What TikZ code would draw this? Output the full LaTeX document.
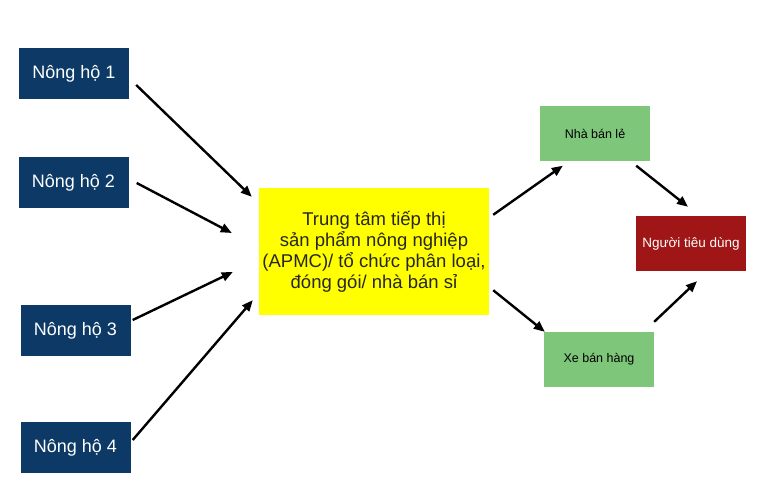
\documentclass[tikz,border=0pt]{standalone}
\usepackage{fontspec}
\setmainfont{Liberation Sans}
\usetikzlibrary{arrows.meta,calc}
\definecolor{farmblue}{RGB}{12,57,101}
\definecolor{marketyellow}{RGB}{255,255,0}
\definecolor{shopgreen}{RGB}{125,198,122}
\definecolor{buyerred}{RGB}{160,22,22}
\begin{document}
\begin{tikzpicture}[
						x=1pt, y=-1pt,
						every node/.style={rectangle, inner sep=0pt, align=center},
						farm/.style={fill=farmblue, text=white, minimum width=110pt, minimum height=51pt, font=\fontsize{18}{21}\selectfont},
						hub/.style={fill=marketyellow, text=black!85, minimum width=230pt, minimum height=127pt, font=\fontsize{18.5}{21}\selectfont},
						shop/.style={fill=shopgreen, text=black, minimum width=110pt, minimum height=55pt, font=\fontsize{12.5}{15}\selectfont},
						buyer/.style={fill=buyerred, text=white, minimum width=110pt, minimum height=55pt, font=\fontsize{13.5}{15}\selectfont},
						flow/.style={-{Triangle[length=11pt, width=9pt]}, line width=2.4pt, black}
					]
					\useasboundingbox (0,0) rectangle (765,494);
					% farmers
					\node[farm] (farm1) at (74,73.5) {Nông hộ 1};
					\node[farm] (farm2) at (73.5,182.5) {Nông hộ 2};
					\node[farm] (farm3) at (75.5,330.5) {Nông hộ 3};
					\node[farm] (farm4) at (75.5,447.5) {Nông hộ 4};
					% market centre
					\node[hub] (hub) at (374,251.5) {Trung tâm tiếp thị\\sản phẩm nông nghiệp\\(APMC)/ tổ chức phân loại,\\đóng gói/ nhà bán sỉ};
					% sellers and consumer
					\node[shop] (retail) at (595,134) {Nhà bán lẻ};
					\node[shop] (cart) at (599,359.5) {Xe bán hàng};
					\node[buyer] (consumer) at (691,243.5) {Người tiêu dùng};
					% arrows
					\draw[flow] ($(farm1.east)+(7,11.5)$) -- ($(hub.north west)+(-7,9)$);
					\draw[flow] ($(farm2.east)+(8,0.5)$) -- ($(hub.west)+(-27,-18.5)$);
					\draw[flow] ($(farm3.east)+(2,-10.5)$) -- ($(hub.west)+(-26,20.5)$);
					\draw[flow] ($(farm4.east)+(2,-7.5)$) -- ($(hub.south west)+(-6,-15)$);
					\draw[flow] ($(hub.north east)+(4,27)$) -- ($(retail.south west)+(23,4)$);
					\draw[flow] ($(hub.south east)+(4,-25)$) -- ($(cart.north west)+(1,0)$);
					\draw[flow] ($(retail.south east)+(-14,4)$) -- ($(consumer.north)+(-3,-9)$);
					\draw[flow] ($(cart.north east)+(0,-10)$) -- ($(consumer.south)+(6,10)$);
				\end{tikzpicture}
\end{document}
